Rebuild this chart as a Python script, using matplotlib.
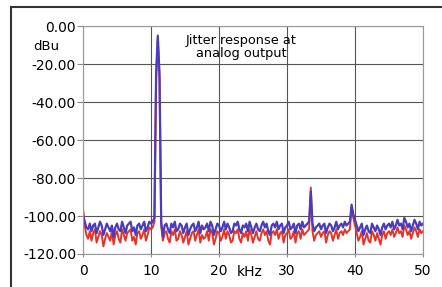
import numpy as np
import matplotlib
matplotlib.use('Agg')
import matplotlib.pyplot as plt
from matplotlib.lines import Line2D

plt.rcParams['font.family'] = ['DejaVu Sans']

# analyzer bins, 0.25 kHz apart
freq_khz = np.arange(0, 50.01, 0.25)

# blue trace (dBu)
blue_dbu = [
    -99, -103, -106, -107, -104, -108, -105, -104, -109, -106, -103, -105, -110, -107, -104, -106, -108, -105, -111, -106,
    -104, -107, -108, -103, -106, -109, -105, -104, -103, -108, -106, -110, -105, -104, -107, -105, -103, -108, -106, -103,
    -104, -103, -101, -25, -5, -25, -103, -111, -105, -104, -107, -109, -104, -106, -103, -108, -107, -104, -105, -109,
    -106, -104, -110, -107, -105, -104, -108, -106, -103, -109, -105, -107, -106, -104, -108, -103, -105, -110, -107, -104,
    -105, -108, -106, -103, -107, -104, -106, -109, -108, -104, -105, -103, -107, -109, -105, -106, -104, -108, -103, -106,
    -109, -106, -104, -107, -108, -105, -103, -106, -104, -108, -110, -105, -104, -106, -103, -107, -105, -104, -109, -106,
    -105, -103, -107, -106, -104, -109, -105, -104, -107, -103, -106, -105, -104, -103, -87, -104, -108, -106, -105, -104,
    -107, -105, -104, -109, -106, -104, -105, -108, -106, -103, -107, -105, -104, -106, -103, -105, -104, -103, -94, -99,
    -102, -105, -108, -106, -104, -110, -107, -105, -108, -109, -104, -106, -108, -105, -107, -110, -106, -104, -107, -105,
    -104, -106, -103, -107, -105, -102, -105, -104, -107, -101, -103, -106, -104, -108, -105, -102, -104, -107, -103, -105,
    -104,
]

# red trace (dBu)
red_dbu = [
    -96, -105, -110, -112, -108, -113, -109, -107, -114, -111, -108, -110, -116, -112, -109, -111, -113, -108, -115, -110,
    -108, -112, -114, -107, -110, -113, -109, -108, -107, -113, -111, -115, -109, -108, -112, -110, -107, -113, -110, -106,
    -107, -106, -103, -28, -7, -28, -105, -113, -109, -108, -112, -114, -108, -110, -107, -113, -112, -108, -110, -114,
    -111, -108, -115, -112, -109, -108, -113, -110, -107, -114, -110, -112, -111, -108, -113, -107, -109, -115, -112, -108,
    -109, -113, -111, -107, -112, -108, -110, -114, -113, -108, -109, -107, -112, -114, -109, -111, -108, -113, -107, -110,
    -114, -111, -108, -112, -113, -109, -107, -110, -108, -113, -115, -109, -108, -110, -107, -112, -109, -108, -114, -110,
    -109, -107, -112, -111, -108, -114, -109, -108, -112, -107, -110, -109, -108, -107, -85, -108, -113, -110, -109, -108,
    -111, -109, -108, -114, -110, -108, -109, -113, -110, -107, -112, -109, -108, -110, -107, -109, -108, -107, -95, -101,
    -105, -109, -113, -111, -108, -115, -112, -109, -113, -114, -108, -110, -113, -109, -112, -115, -110, -108, -112, -109,
    -108, -110, -107, -111, -109, -106, -109, -108, -111, -105, -107, -110, -108, -112, -109, -106, -108, -111, -107, -109,
    -108,
]

x_ticks = [0, 10, 20, 30, 40, 50]
y_ticks = [0, -20, -40, -60, -80, -100, -120]

fig = plt.figure(figsize=(4.42, 2.87), dpi=100)
ax = fig.add_axes([0.1878, 0.115, 0.7692, 0.794])

ax.plot(freq_khz, red_dbu, color='#e4342a', lw=1.4)
ax.plot(freq_khz, blue_dbu, color='#4a3cbc', lw=1.6)

ax.set_xlim(0, 50)
ax.set_ylim(-120, 0)
ax.set_xticks(x_ticks)
ax.set_yticks(y_ticks)
ax.set_yticklabels(['%.2f' % v for v in y_ticks])
ax.grid(True, color='#555555', lw=0.8)
ax.tick_params(axis='y', labelsize=10, length=4, pad=1, color='#888888')
ax.tick_params(axis='x', labelsize=10, length=2, pad=5, color='#888888')
for s in ax.spines.values():
    s.set_color('#999999')
    s.set_linewidth(0.8)

fig.text(46 / 442, 1 - 47 / 287, 'dBu', fontsize=9.5, ha='center', va='center')
fig.text(250 / 442, 1 - 272 / 287, 'kHz', fontsize=10, ha='center', va='center')
fig.text(241 / 442, 1 - 47 / 287, 'Jitter response at\nanalog output',
         fontsize=9.3, ha='center', va='center', linespacing=0.95)

# outer frame
fig.add_artist(Line2D([11 / 442, 11 / 442], [0, 1 - 7 / 287], color='#333333', lw=1.5))
fig.add_artist(Line2D([11 / 442, 1], [1 - 7 / 287, 1 - 7 / 287], color='#333333', lw=1.5))

fig.savefig('out.png', dpi=100)
